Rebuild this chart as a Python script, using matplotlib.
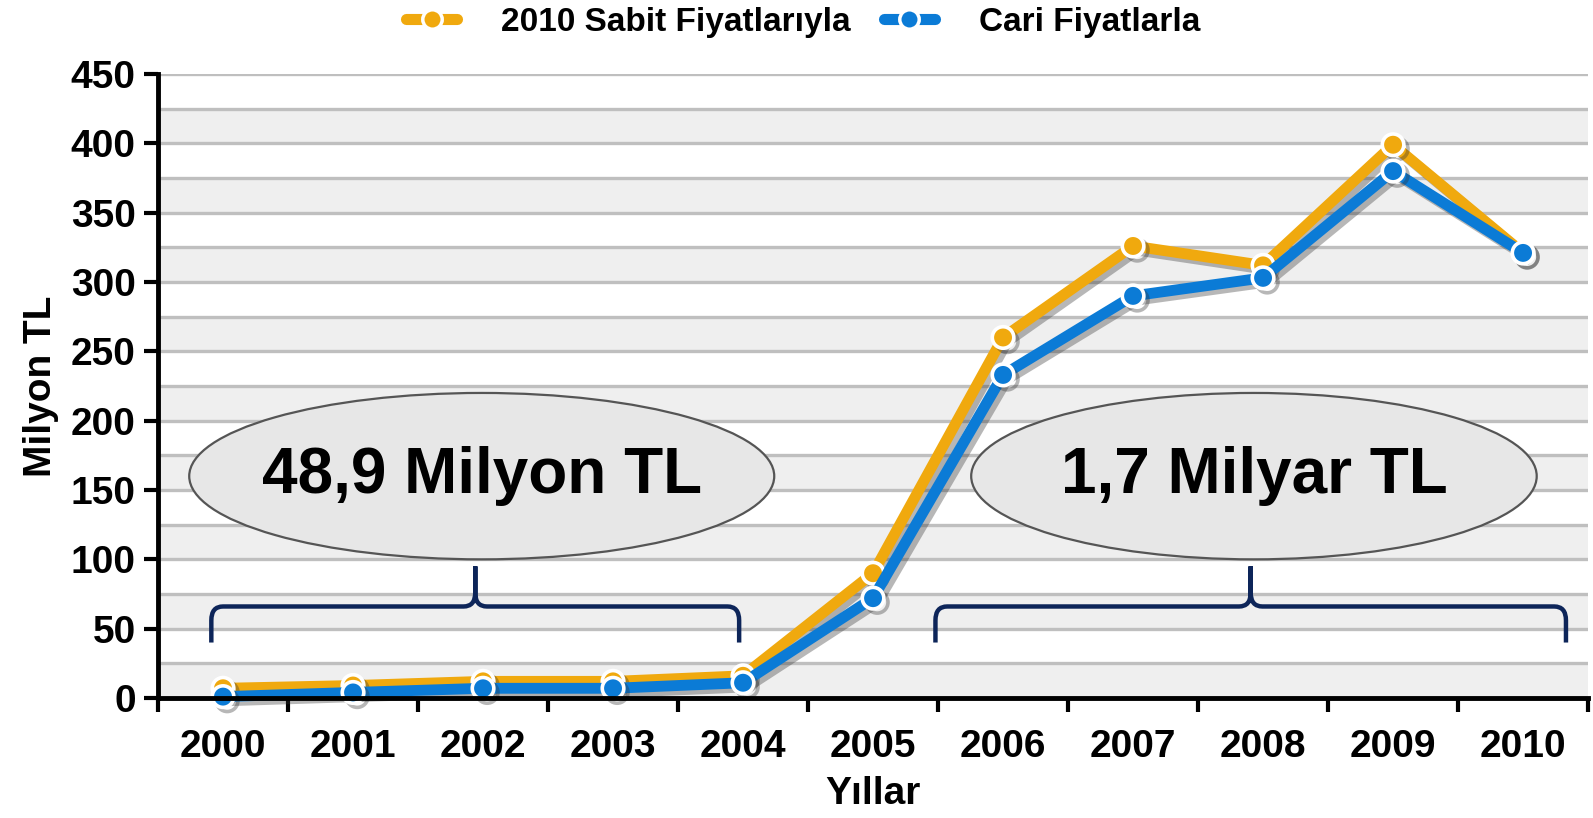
import numpy as np
import matplotlib.pyplot as plt
import matplotlib.patheffects as pe
from matplotlib.patches import Ellipse, PathPatch
from matplotlib.path import Path
from matplotlib.lines import Line2D

# ====== DONNEES ======
years = ["2000", "2001", "2002", "2003", "2004", "2005",
         "2006", "2007", "2008", "2009", "2010"]
sabit = [7, 9, 12, 12, 16, 90, 260, 326, 312, 399, 321]   # 2010 Sabit Fiyatlarıyla
cari = [1, 4, 7, 7, 11, 72, 233, 290, 303, 380, 321]      # Cari Fiyatlarla
yticks = [0, 50, 100, 150, 200, 250, 300, 350, 400, 450]
left_label = "48,9 Milyon TL"
right_label = "1,7 Milyar TL"

ORANGE = "#F0A90E"
BLUE = "#0B7BD6"
NAVY = "#0D2559"

plt.rcParams["font.family"] = ["Liberation Sans", "DejaVu Sans"]
plt.rcParams["font.weight"] = "bold"

fig = plt.figure(figsize=(15.93, 8.18), dpi=100)
ax = fig.add_axes([0.0992, 0.1467, 0.8977, 0.7628])
x = np.arange(len(years))

# bandes grises alternées + lignes de grille tous les 25
for b in range(0, 450, 50):
    ax.axhspan(b, b + 25, color="#efefef", zorder=0, lw=0)
for g in range(25, 451, 25):
    ax.axhline(g, color="#bfbfbf", lw=2.4, zorder=1)

# ====== ELLIPSES + ACCOLADES ======
def brace(ax, x0, x1, y_end, y_bar, y_tip, dx=0.09, dy=10):
    xm = (x0 + x1) / 2
    verts = [(x0, y_end), (x0, y_bar - dy), (x0, y_bar), (x0 + dx, y_bar),
             (xm - dx, y_bar), (xm, y_bar), (xm, y_bar + dy), (xm, y_tip),
             (xm, y_tip), (xm, y_bar + dy), (xm, y_bar), (xm + dx, y_bar),
             (x1 - dx, y_bar), (x1, y_bar), (x1, y_bar - dy), (x1, y_end)]
    codes = [Path.MOVETO, Path.LINETO, Path.CURVE3, Path.CURVE3,
             Path.LINETO, Path.CURVE3, Path.CURVE3, Path.LINETO,
             Path.MOVETO, Path.LINETO, Path.CURVE3, Path.CURVE3,
             Path.LINETO, Path.CURVE3, Path.CURVE3, Path.LINETO]
    ax.add_patch(PathPatch(Path(verts, codes), fill=False, edgecolor=NAVY,
                           lw=3.2, zorder=3, capstyle="butt"))

brace(ax, -0.09, 3.97, 40, 66, 95)
brace(ax, 5.48, 10.33, 40, 66, 95)

for cx, w, txt in [(1.99, 4.5, left_label), (7.93, 4.35, right_label)]:
    ax.add_patch(Ellipse((cx, 160), w, 120, facecolor="#e7e7e7",
                         edgecolor="#555555", lw=1.6, zorder=3))
    ax.text(cx, 160, txt, ha="center", va="center", fontsize=46,
            fontweight="bold", zorder=4)

# ====== COURBES ======
shadow = [pe.SimpleLineShadow(offset=(3, -3), alpha=0.35, shadow_color="#333333"),
          pe.Normal()]
for vals, col in [(sabit, ORANGE), (cari, BLUE)]:
    ax.plot(x, vals, color=col, lw=7.8, marker="o", markersize=15.5,
            markerfacecolor=col, markeredgecolor="white", markeredgewidth=2.6,
            zorder=5, clip_on=False, path_effects=shadow)

# ====== AXES ======
ax.set_xlim(-0.5, 10.5)
ax.set_ylim(0, 450)
ax.set_yticks(yticks)
ax.set_xticks(x)
ax.set_xticklabels(years)
ax.set_xticks(np.arange(-0.5, 10.6, 1), minor=True)
ax.tick_params(axis="x", which="major", length=0, pad=22, labelsize=28)
ax.tick_params(axis="x", which="minor", length=10, width=3, direction="out")
ax.tick_params(axis="y", length=10, width=3, pad=6, labelsize=28)
for side in ["top", "right"]:
    ax.spines[side].set_visible(False)
for side in ["left", "bottom"]:
    ax.spines[side].set_linewidth(3.5)
    ax.spines[side].set_zorder(6)

ax.set_xlabel("Yıllar", fontsize=28, fontweight="bold", labelpad=8)
ax.set_ylabel("Milyon TL", fontsize=28, fontweight="bold")
ax.yaxis.set_label_coords(-0.069, 0.5)

# ====== LEGENDE ======
handles = [Line2D([], [], color=ORANGE, lw=8, marker="o", markersize=14,
                  markeredgecolor="white", markeredgewidth=2.5,
                  solid_capstyle="round"),
           Line2D([], [], color=BLUE, lw=8, marker="o", markersize=14,
                  markeredgecolor="white", markeredgewidth=2.5,
                  solid_capstyle="round")]
fig.legend(handles, ["2010 Sabit Fiyatlarıyla", "Cari Fiyatlarla"],
           loc="center", bbox_to_anchor=(0.504, 0.973), ncol=2, frameon=False,
           handlelength=1.55, handletextpad=1.3, columnspacing=1.0,
           prop={"weight": "bold", "size": 24})

fig.savefig("out.png", dpi=100)
